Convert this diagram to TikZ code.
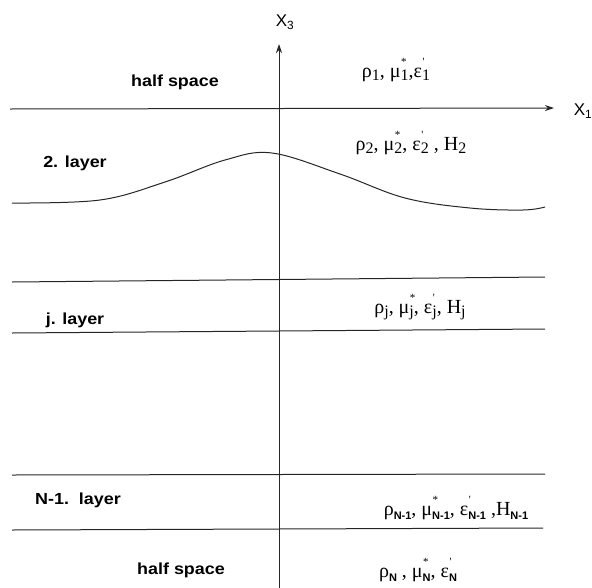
\documentclass[tikz,border=0pt]{standalone}
\usepackage{fontspec}
\setmainfont{Liberation Serif}
\setsansfont{Liberation Sans}
\newfontfamily\labfont[FakeStretch=1.12]{Liberation Sans}
\usetikzlibrary{arrows.meta}
\tikzset{
  line/.style={line width=1pt, black!85},
  tip/.style={-{Stealth[length=9pt,width=6pt]}},
  lab/.style={font=\labfont\bfseries\fontsize{16}{18}\selectfont, inner sep=1pt},
  par/.style={font=\fontsize{20}{22}\selectfont, inner sep=1pt},
  axlab/.style={font=\sffamily\fontsize{17}{19}\selectfont, inner sep=1pt}
}
\newcommand{\lo}[1]{\raisebox{-0.35ex}{\fontsize{16}{16}\selectfont #1}}
\newcommand{\nlo}[1]{\raisebox{-0.5ex}{\sffamily\bfseries\fontsize{11}{11}\selectfont #1}}
\newcommand{\hi}[1]{\makebox[0pt][l]{\kern0.5pt\raisebox{1.25ex}{\fontsize{11}{11}\selectfont #1}}}
\newcommand{\prm}{\textquotesingle}
\begin{document}
\begin{tikzpicture}[x=1pt,y=-1pt]
\useasboundingbox (0,0) rectangle (592,587);
% axes
\coordinate (vb) at (279,590);
\coordinate (vt) at (279,44);
\coordinate (hl) at (10,109);
\coordinate (hr) at (554,108);
\draw[line,tip] (vb) -- (vt);
\draw[line,tip] (hl) -- (hr);
\node[axlab] (x3) at (285,22) {X\textsubscript{3}};
\node[axlab] (x1) at (583,111) {X\textsubscript{1}};
% interfaces
\draw[line] plot[smooth, tension=0.6] coordinates {(12,203) (100,200) (165,182) (225,160) (272,153) (340,174) (405,198) (470,208) (523,210) (545,207)};
\coordinate (a1) at (12,282); \coordinate (a2) at (545,277);
\coordinate (b1) at (12,333); \coordinate (b2) at (545,329);
\coordinate (c1) at (12,475); \coordinate (c2) at (545,474);
\coordinate (d1) at (12,530); \coordinate (d2) at (543,528);
\draw[line] (a1) -- (a2);
\draw[line] (b1) -- (b2);
\draw[line] (c1) -- (c2);
\draw[line] (d1) -- (d2);
% layer labels
\node[lab] (hs1) at (175,82) {half space};
\node[lab] (l2) at (75,163) {2. layer};
\node[lab] (lj) at (75,320) {j. layer};
\node[lab] (ln) at (78,500) {N-1.\ \ layer};
\node[lab] (hs2) at (181,570) {half space};
% parameters
\node[par] (p1) at (396,70) {ρ\lo{1}, μ\hi{*}\lo{1},ε\hi{\prm}\lo{1}};
\node[par] (p2) at (411,143) {ρ\lo{2}, μ\hi{*}\lo{2}, ε\hi{\prm}\lo{2} , H\lo{2}};
\node[par] (pj) at (420,307) {ρ\lo{j}, μ\hi{*}\lo{j}, ε\hi{\prm}\lo{j}, H\lo{j}};
\node[par] (pn1) at (456,508) {ρ\nlo{N-1}, μ\hi{*}\nlo{N-1}, ε\hi{\prm}\nlo{N-1} ,H\nlo{N-1}};
\node[par] (pn) at (418,570) {ρ\nlo{N} , μ\hi{*}\nlo{N}, ε\hi{\prm}\nlo{N}};
\end{tikzpicture}
\end{document}
